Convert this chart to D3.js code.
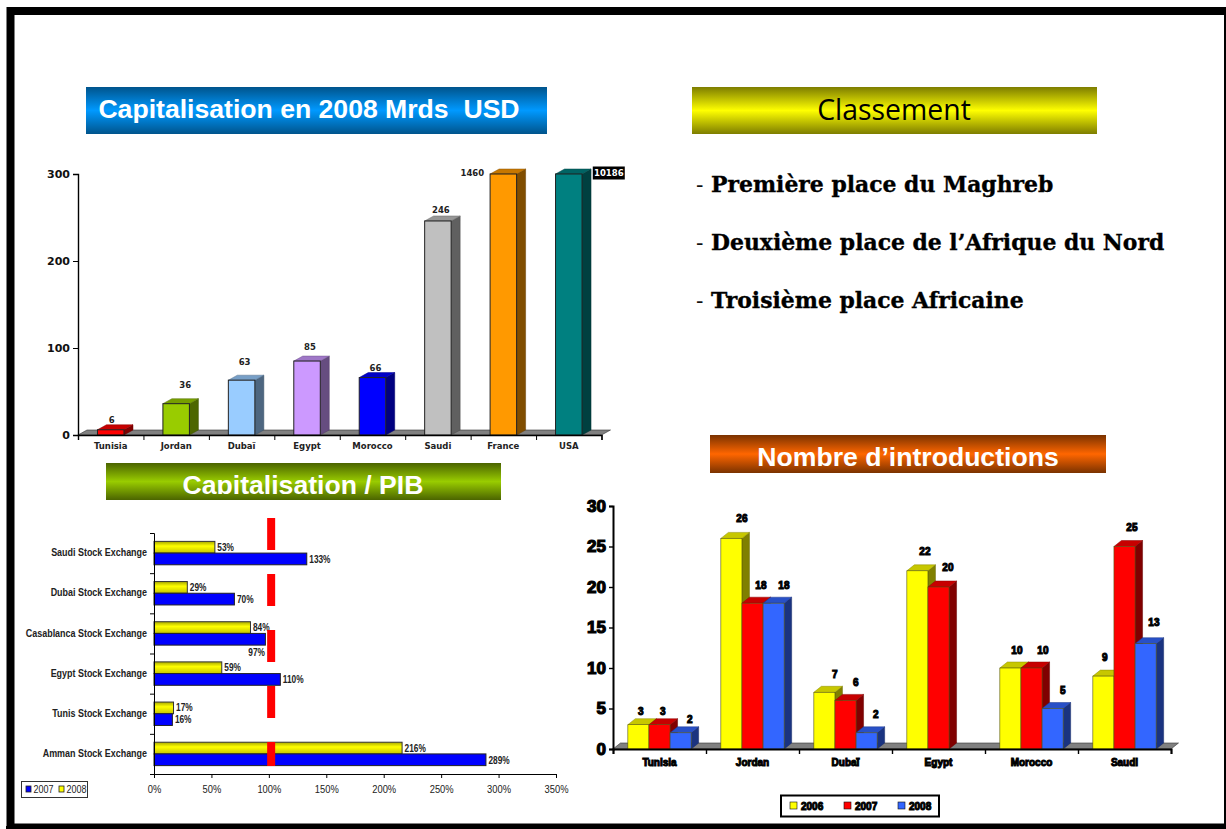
<!DOCTYPE html>
<html>
<head>
<meta charset="utf-8">
<script src="https://cdn.jsdelivr.net/npm/d3@7/dist/d3.min.js"></script>
<style>
html,body{margin:0;padding:0;background:#fff;overflow:hidden}
svg{display:block}
text{fill:#111;white-space:pre}
</style>
</head>
<body>
<svg id="slide" width="1226" height="829"></svg>
<script>
// ---- Market capitalisation, 2008 ----
const capCategories = ["Tunisia","Jordan","Dubaï","Egypt","Morocco","Saudi","France","USA"];
const capValues = [6,36,63,85,66,246,1460,10186];
const capColors = ["#ff0000","#99cc00","#99ccff","#cc99ff","#0000ff","#c0c0c0","#ff9900","#008080"];
const capTicks = [0,100,200,300];
const capLabelShift = [[1,-10],[9,-19],[3,-18],[3,-14],[3,-10],[3,-11],[-31,-1],[40,-1]];

// ---- Capitalisation / GDP by exchange ----
const gdpExchanges = ["Saudi Stock Exchange","Dubai Stock Exchange","Casablanca Stock Exchange","Egypt Stock Exchange","Tunis Stock Exchange","Amman Stock Exchange"];
const gdp2008 = [53,29,84,59,17,216];
const gdp2007 = [133,70,97,110,16,289];
const gdpTicks = [0,50,100,150,200,250,300,350];

// ---- Number of listings ----
const introCategories = ["Tunisia","Jordan","Dubaï","Egypt","Morocco","Saudi"];
const introYears = ["2006","2007","2008"];
const intro2006 = [3,26,7,22,10,9];
const intro2007 = [3,18,6,20,10,25];
const intro2008 = [2,18,2,null,5,13];
const introColors = ["#ffff00","#ff0000","#3366ff"];
const introTicks = [0,5,10,15,20,25,30];
const introLabelShift = [
  [[2.5,-13],[10.5,-20],[10.5,-18],[7.5,-19],[6.5,-18],[1.5,-19]],
  [[3.4,-13],[8.4,-18],[10.4,-18],[9.4,-20],[11.4,-18],[7.4,-19.5]],
  [[9.3,-13],[10.3,-18],[9.3,-18],[0,0],[10.3,-18],[8.3,-21]]
];

// ---- Ranking text ----
const rankingLines = ["Première place du Maghreb","Deuxième place de l’Afrique du Nord","Troisième place Africaine"];

const svg = d3.select("#slide");
const defs = svg.append("defs");
const SANS = "'Liberation Sans',Arial,sans-serif";
const WIDE = "'DejaVu Sans',Verdana,sans-serif";

// Slide frame
svg.append("rect").attr("x",10.5).attr("y",11).attr("width",1225).attr("height",816.5)
  .attr("fill","#fff").attr("stroke","#000").attr("stroke-width",8);
svg.append("rect").attr("x",1224).attr("y",7).attr("width",2).attr("height",822).attr("fill","#000");
svg.append("rect").attr("x",6).attr("y",826).attr("width",1220).attr("height",3).attr("fill","#000");

function shade(color,k){
  const c = d3.rgb(color);
  return d3.rgb(c.r*k,c.g*k,c.b*k).formatRgb();
}

// Squeezes a text horizontally to the given share of its natural width
function condense(sel,share){
  sel.each(function(){
    const w = this.getComputedTextLength();
    d3.select(this).attr("textLength",w*share).attr("lengthAdjust","spacingAndGlyphs");
  });
  return sel;
}

// Heading band with a dark-bright-dark vertical ramp
function banner(id,x,y,w,h,mid,edge,label,o){
  const g = defs.append("linearGradient").attr("id",id).attr("x1",0).attr("y1",0).attr("x2",0).attr("y2",1);
  g.append("stop").attr("offset","0%").attr("stop-color",edge);
  g.append("stop").attr("offset","50%").attr("stop-color",mid);
  g.append("stop").attr("offset","100%").attr("stop-color",edge);
  svg.append("rect").attr("x",x).attr("y",y).attr("width",w).attr("height",h).attr("fill",`url(#${id})`);
  const t = svg.append("text").attr("x",o.cx).attr("y",o.base).attr("text-anchor","middle")
    .attr("font-family",o.family).attr("font-weight",o.weight).attr("font-size",o.size)
    .style("fill",o.fill).text(label);
  if(o.clipBottom){
    defs.append("clipPath").attr("id",id+"c").append("rect")
      .attr("x",x).attr("y",y).attr("width",w).attr("height",o.clipBottom-y);
    t.attr("clip-path",`url(#${id}c)`);
  }
}
banner("bBlue",86,87,461,47,"#0099ff","#00548c","Capitalisation en 2008 Mrds  USD",
  {cx:309,base:118,family:SANS,weight:700,size:26.6,fill:"#fff"});
banner("bYellow",692,87,405,47,"#ffff00","#7d7d00","Classement",
  {cx:894,base:120,family:"'Open Sans','Noto Sans',sans-serif",weight:400,size:28.4,fill:"#000"});
banner("bGreen",106,463,395,37,"#99cc00","#4b6400","Capitalisation / PIB",
  {cx:303,base:494,family:SANS,weight:700,size:26.6,fill:"#fff",clipBottom:494});
banner("bOrange",710,435,396,38,"#ff6600","#7a3200","Nombre d’introductions",
  {cx:908,base:466,family:SANS,weight:700,size:26.6,fill:"#fff"});

// Ranking lines
const rankRows = d3.scaleOrdinal().domain(rankingLines).range([192,250,308]);
svg.append("g").selectAll("g").data(rankingLines).join("g").each(function(d){
  const g = d3.select(this);
  g.append("text").attr("x",696).attr("y",rankRows(d))
    .attr("font-family","'DejaVu Serif',serif").attr("font-size",22).attr("font-weight",400).text("-");
  g.append("text").attr("x",711).attr("y",rankRows(d))
    .attr("font-family","'DejaVu Serif',serif").attr("font-size",21.9).attr("font-weight",700)
    .style("fill","#000").attr("stroke","#000").attr("stroke-width",0.35).text(d);
});

// Draws one extruded bar: side, top, then front
function bar3d(parent,x,w,top,base,dx,dy,color,stroke,sw){
  const g = parent.append("g");
  g.append("path").attr("d",`M${x+w},${base}L${x+w+dx},${base-dy}L${x+w+dx},${top-dy}L${x+w},${top}Z`)
    .attr("fill",shade(color,0.5)).attr("stroke",shade(color,0.4)).attr("stroke-width",0.5);
  g.append("path").attr("d",`M${x},${top}L${x+dx},${top-dy}L${x+w+dx},${top-dy}L${x+w},${top}Z`)
    .attr("fill",shade(color,0.78)).attr("stroke",shade(color,0.55)).attr("stroke-width",0.5);
  g.append("rect").attr("x",x).attr("y",top).attr("width",w).attr("height",Math.max(0,base-top))
    .attr("fill",color).attr("stroke",stroke).attr("stroke-width",sw);
}

function floorPath(parent,x0,x1,y,dx,dy){
  parent.append("path").attr("d",`M${x0},${y}L${x0+dx},${y-dy}L${x1+dx},${y-dy}L${x1},${y}Z`)
    .attr("fill","#808080").attr("stroke","#333").attr("stroke-width",0.6);
}

// ---- Chart: capitalisation ----
(function(){
  const g = svg.append("g");
  const x = d3.scaleBand().domain(capCategories).range([78,601.5]);
  const xEdges = d3.scaleLinear().domain([0,capCategories.length]).range([78,601.5]);
  const y = d3.scaleLinear().domain([0,300]).range([435,174]).clamp(true);
  const barW = 26.5, dx = 9, dy = 5;
  floorPath(g,78,601.5,435,dx,dy);
  capCategories.forEach((c,i)=>{
    bar3d(g,x(c)+(x.bandwidth()-barW)/2,barW,y(capValues[i]),435,dx,dy,capColors[i],"#222",1);
  });
  const ya = d3.axisLeft(y).tickValues(capTicks).tickSize(5).tickPadding(3);
  const yg = g.append("g").attr("transform","translate(78,0)").call(ya);
  yg.selectAll("text").attr("font-family",WIDE).attr("font-weight",700).attr("font-size",11).style("fill","#111");
  const xe = d3.axisBottom(xEdges).ticks(capCategories.length).tickFormat("").tickSize(5);
  g.append("g").attr("transform","translate(0,435)").call(xe);
  const xl = d3.axisBottom(x).tickSize(0).tickPadding(8);
  const xg = g.append("g").attr("transform","translate(0,435)").call(xl);
  xg.select(".domain").remove();
  xg.selectAll("text").attr("font-family",WIDE).attr("font-weight",700).attr("font-size",8.5).style("fill","#222");
  g.selectAll(".domain").attr("stroke","#000").attr("stroke-width",1.4);
  g.selectAll(".tick line").attr("stroke","#000").attr("stroke-width",1);
  capCategories.forEach((c,i)=>{
    const cx = x(c)+x.bandwidth()/2+capLabelShift[i][0];
    const cy = y(capValues[i])+capLabelShift[i][1];
    const last = i===capCategories.length-1;
    if(last){
      g.append("rect").attr("x",cx-16).attr("y",cy-6.5).attr("width",32).attr("height",13).attr("fill","#000");
    }
    g.append("text").attr("x",cx).attr("y",cy).attr("dy","0.36em").attr("text-anchor","middle")
      .attr("font-family",WIDE).attr("font-weight",700).attr("font-size",8.5)
      .style("fill",last?"#fff":"#222").text(capValues[i]);
  });
})();

// ---- Chart: capitalisation / GDP ----
(function(){
  const g = svg.append("g");
  const x = d3.scaleLinear().domain([0,350]).range([154,556]);
  const y = d3.scaleBand().domain(gdpExchanges).range([533,774]);
  const yEdges = d3.scaleLinear().domain([0,gdpExchanges.length]).range([533,774]);
  const barH = 11.7;
  const yg8 = defs.append("linearGradient").attr("id","gdpYellow").attr("x1",0).attr("y1",0).attr("x2",0).attr("y2",1);
  yg8.append("stop").attr("offset","0%").attr("stop-color","#a8a800");
  yg8.append("stop").attr("offset","40%").attr("stop-color","#ffff00");
  yg8.append("stop").attr("offset","100%").attr("stop-color","#c4c400");
  const mid = n => y(n)+y.bandwidth()/2;
  gdpExchanges.forEach((n,i)=>{
    g.append("rect").attr("x",x(0)).attr("y",mid(n)-barH).attr("width",x(gdp2008[i])-x(0)).attr("height",barH)
      .attr("fill","url(#gdpYellow)").attr("stroke","#333").attr("stroke-width",1);
    g.append("rect").attr("x",x(0)).attr("y",mid(n)).attr("width",x(gdp2007[i])-x(0)).attr("height",barH)
      .attr("fill","#0000ff").attr("stroke","#222").attr("stroke-width",1);
  });
  const small = sel => sel.attr("font-family",SANS).attr("font-weight",700).attr("font-size",10.4).style("fill","#222");
  gdpExchanges.forEach((n,i)=>{
    condense(small(g.append("text").attr("x",x(gdp2008[i])+2.5).attr("y",mid(n)-6).attr("dy","0.36em"))
      .text(gdp2008[i]+"%"),0.8);
    const under = n.startsWith("Casablanca");
    condense(small(g.append("text")
      .attr("x",under?x(gdp2007[i])-0.5:x(gdp2007[i])+2.5)
      .attr("y",under?mid(n)+19:mid(n)+6).attr("dy","0.36em")
      .attr("text-anchor",under?"end":"start"))
      .text(gdp2007[i]+"%"),0.8);
  });
  // Reference line at parity, drawn above the bars
  g.append("line").attr("x1",x(102)).attr("x2",x(102)).attr("y1",518).attr("y2",766)
    .attr("stroke","#ff0000").attr("stroke-width",8).attr("stroke-dasharray","32 24");
  const xa = d3.axisBottom(x).tickValues(gdpTicks).tickFormat(d=>d+"%").tickSize(4).tickPadding(8);
  const xg = g.append("g").attr("transform","translate(0,774)").call(xa);
  condense(xg.selectAll("text").attr("font-family",SANS).attr("font-size",10.4).style("fill","#222"),0.9);
  const ye = d3.axisLeft(yEdges).ticks(gdpExchanges.length).tickFormat("").tickSize(4);
  g.append("g").attr("transform","translate(154,0)").call(ye);
  const yl = d3.axisLeft(y).tickSize(0).tickPadding(7);
  const yg = g.append("g").attr("transform","translate(154,0)").call(yl);
  yg.select(".domain").remove();
  condense(yg.selectAll("text").attr("font-family",SANS).attr("font-weight",700).attr("font-size",10.4)
    .style("fill","#222").attr("dy","0.3em"),0.86);
  g.selectAll(".domain").attr("stroke","#000").attr("stroke-width",1);
  g.selectAll(".tick line").attr("stroke","#000");
  // Legend
  const lg = g.append("g");
  lg.append("rect").attr("x",21.5).attr("y",781.5).attr("width",66).attr("height",16).attr("fill","#fff").attr("stroke","#333");
  [["2007","#0000ff",26,33.5],["2008","#ffff00",59,66.5]].forEach(([t,c,a,b])=>{
    lg.append("rect").attr("x",a).attr("y",786).attr("width",5).attr("height",6).attr("fill",c).attr("stroke","#222").attr("stroke-width",0.8);
    lg.append("text").attr("x",b).attr("y",792.5).attr("font-family",SANS).attr("font-size",10.4)
      .attr("textLength",20).attr("lengthAdjust","spacingAndGlyphs").style("fill","#222").text(t);
  });
})();

// ---- Chart: number of listings ----
(function(){
  const g = svg.append("g");
  const x = d3.scaleBand().domain(introCategories).range([613,1171]);
  const xEdges = d3.scaleLinear().domain([0,introCategories.length]).range([613,1171]);
  const y = d3.scaleLinear().domain([0,30]).range([749,506]);
  const barW = 21.1, dx = 7.5, dy = 6;
  const series = [intro2006,intro2007,intro2008];
  const inner = (x.bandwidth()-barW*3)/2;
  floorPath(g,613,1171,749,dx,dy);
  const heavy = (sel,sw) => sel.attr("font-family",SANS).attr("font-weight",700).style("fill","#000")
    .attr("stroke","#000").attr("stroke-width",sw);
  introCategories.forEach((c,i)=>{
    series.forEach((s,k)=>{
      if(s[i]===null) return;
      bar3d(g,x(c)+inner+barW*k,barW,y(s[i]),749,dx,dy,introColors[k],"#55550f",0.6);
    });
  });
  series.forEach((s,k)=>{
    introCategories.forEach((c,i)=>{
      if(s[i]===null) return;
      const sh = introLabelShift[k][i];
      heavy(g.append("text").attr("x",x(c)+inner+barW*(k+0.5)+sh[0]).attr("y",y(s[i])+sh[1])
        .attr("dy","0.36em").attr("text-anchor","middle").attr("font-size",10),1).text(s[i]);
    });
  });
  const ya = d3.axisLeft(y).tickValues(introTicks).tickSize(4).tickPadding(3);
  const yg = g.append("g").attr("transform","translate(613,0)").call(ya);
  heavy(yg.selectAll("text").attr("font-size",17),1.2);
  const xe = d3.axisBottom(xEdges).ticks(introCategories.length).tickFormat("").tickSize(5);
  g.append("g").attr("transform","translate(0,749)").call(xe);
  const xl = d3.axisBottom(x).tickSize(0).tickPadding(10);
  const xg = g.append("g").attr("transform","translate(0,749)").call(xl);
  xg.select(".domain").remove();
  heavy(xg.selectAll("text").attr("font-size",10),1);
  g.selectAll(".domain").attr("stroke","#000").attr("stroke-width",2);
  g.selectAll(".tick line").attr("stroke","#000").attr("stroke-width",1.4);
  // Legend
  const lg = g.append("g");
  lg.append("rect").attr("x",781).attr("y",795.5).attr("width",158).attr("height",21).attr("fill","#fff").attr("stroke","#000").attr("stroke-width",2);
  const lx = d3.scalePoint().domain(introYears).range([790,898]);
  introYears.forEach((t,k)=>{
    lg.append("rect").attr("x",lx(t)).attr("y",802).attr("width",7).attr("height",7).attr("fill",introColors[k]).attr("stroke","#111").attr("stroke-width",0.6);
    heavy(lg.append("text").attr("x",lx(t)+11).attr("y",810).attr("font-size",10),1).text(t);
  });
})();
</script>
</body>
</html>
